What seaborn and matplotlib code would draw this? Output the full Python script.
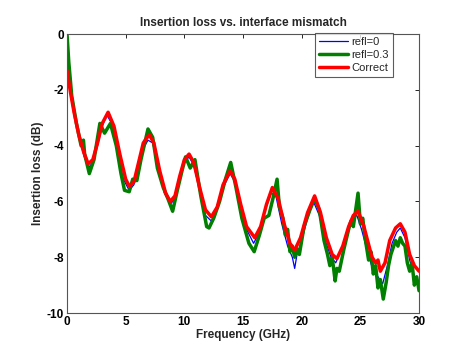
import numpy as np
import pandas as pd
import matplotlib
matplotlib.use("Agg")
import matplotlib.pyplot as plt
import seaborn as sns

# values (GHz, dB)
freq_correct = [0, 0.3, 0.6, 1.0, 1.4, 1.8, 2.2, 2.6, 3.0, 3.5, 4.0, 4.5, 5.0, 5.3, 5.7,
                6.1, 6.5, 7.0, 7.4, 7.9, 8.4, 8.8, 9.2, 9.6, 10.0, 10.4, 10.8, 11.3, 11.8,
                12.3, 12.8, 13.3, 13.9, 14.3, 14.8, 15.3, 16.0, 16.5, 17.0, 17.5, 18.0,
                18.5, 19.0, 19.4, 19.9, 20.5, 21.1, 21.6, 22.1, 22.6, 23.0, 23.5, 24.0,
                24.4, 24.8, 25.3, 25.8, 26.0, 26.3, 26.5, 26.7, 27.1, 27.5, 28.0, 28.4,
                28.8, 29.2, 29.6, 30.0]
loss_correct = [-1.3, -2.1, -2.8, -3.6, -4.2, -4.65, -4.5, -3.9, -3.2, -2.8, -3.3, -4.3,
                -5.2, -5.45, -5.3, -4.6, -3.9, -3.6, -3.9, -4.9, -5.7, -6.0, -5.8, -5.1,
                -4.5, -4.3, -4.6, -5.5, -6.3, -6.55, -6.2, -5.4, -4.9, -5.2, -6.1, -6.9,
                -7.3, -6.9, -6.1, -5.5, -5.9, -6.8, -7.5, -7.75, -7.3, -6.4, -5.8, -6.4,
                -7.3, -7.9, -8.05, -7.6, -6.9, -6.5, -6.35, -6.9, -7.7, -8.0, -8.2, -8.1,
                -8.5, -8.2, -7.4, -6.95, -6.8, -7.1, -7.9, -8.3, -8.5]

freq_refl0 = [0, 0.3, 0.6, 1.0, 1.4, 1.8, 2.2, 2.6, 3.0, 3.4, 3.8, 4.3, 4.8, 5.3, 5.7,
              6.1, 6.5, 6.9, 7.3, 7.8, 8.3, 8.8, 9.2, 9.6, 10.0, 10.4, 10.8, 11.3, 11.8,
              12.3, 12.8, 13.3, 13.9, 14.3, 14.8, 15.3, 15.9, 16.4, 16.9, 17.4, 17.8,
              18.3, 18.8, 19.2, 19.4, 19.6, 20.0, 20.5, 21.0, 21.5, 22.0, 22.5, 22.9,
              23.4, 23.9, 24.3, 24.7, 25.1, 25.6, 26.1, 26.5, 26.9, 27.3, 27.7, 28.1,
              28.4, 28.8, 29.2, 29.6, 30.0]
loss_refl0 = [-0.9, -1.9, -2.7, -3.6, -4.3, -4.8, -4.6, -4.0, -3.3, -2.9, -3.2, -4.2,
              -5.2, -5.6, -5.4, -4.8, -4.1, -3.8, -3.9, -4.8, -5.7, -6.1, -5.9, -5.2,
              -4.6, -4.4, -4.7, -5.6, -6.5, -6.7, -6.3, -5.5, -5.0, -5.3, -6.2, -7.0,
              -7.5, -7.1, -6.3, -5.7, -5.8, -6.8, -7.6, -8.0, -8.4, -7.9, -7.4, -6.6,
              -6.0, -6.5, -7.4, -8.0, -8.2, -7.7, -7.0, -6.6, -6.5, -7.0, -7.8, -8.5,
              -8.7, -8.95, -8.3, -7.5, -7.1, -6.95, -7.3, -8.1, -8.7, -9.1]

freq_refl03 = [0, 0.15, 0.4, 0.8, 1.2, 1.4, 1.5, 1.9, 2.3, 2.8, 3.2, 3.7, 4.2, 4.6, 4.9,
               5.3, 5.6, 5.95, 6.3, 6.9, 7.3, 7.7, 8.2, 8.6, 9.0, 9.4, 9.8, 10.1, 10.5,
               10.9, 11.4, 11.9, 12.1, 12.5, 13.0, 13.5, 13.95, 14.4, 14.9, 15.5, 15.95,
               16.4, 16.8, 17.2, 17.6, 17.9, 18.1, 18.4, 18.6, 18.8, 19.0, 19.2, 19.4,
               19.6, 19.8, 20.2, 20.7, 21.1, 21.5, 21.9, 22.2, 22.4, 22.6, 22.85, 23.0,
               23.2, 23.6, 24.0, 24.2, 24.4, 24.6, 24.8, 25.0, 25.2, 25.4, 25.7, 25.9,
               26.1, 26.3, 26.5, 26.7, 26.95, 27.2, 27.4, 27.6, 28.0, 28.2, 28.4, 28.6,
               28.8, 29.0, 29.2, 29.4, 29.6, 29.8, 30.0]
loss_refl03 = [0.0, -1.0, -2.2, -3.2, -4.0, -3.8, -4.3, -5.0, -4.5, -3.2, -3.55, -3.2,
               -4.0, -5.0, -5.6, -5.65, -5.2, -5.25, -4.5, -3.4, -3.7, -4.8, -5.5, -5.9,
               -6.35, -5.6, -4.9, -4.4, -4.8, -4.5, -5.8, -6.9, -6.95, -6.6, -6.0, -5.2,
               -4.6, -5.5, -6.6, -7.5, -7.8, -7.2, -6.6, -6.5, -5.8, -5.2, -6.2, -6.6,
               -7.2, -7.0, -7.8, -7.6, -8.0, -7.7, -7.9, -6.9, -6.3, -5.9, -6.3, -7.4,
               -7.9, -8.3, -8.0, -8.85, -8.4, -8.5, -7.7, -7.0, -6.7, -6.9, -6.3, -5.7,
               -6.8, -6.6, -7.3, -8.1, -7.8, -8.6, -8.3, -9.1, -8.8, -9.5, -8.9, -8.3,
               -7.9, -7.4, -7.6, -7.3, -7.5, -7.6, -8.2, -8.5, -8.2, -9.0, -8.7, -9.2]

sns.set_style("white")
plt.rcParams["font.family"] = ["Liberation Sans", "DejaVu Sans"]
plt.rcParams["font.weight"] = "bold"
plt.rcParams["axes.titleweight"] = "bold"
plt.rcParams["axes.labelweight"] = "bold"
plt.rcParams["axes.unicode_minus"] = False

fig = plt.figure(figsize=(4.7, 3.57), dpi=100)
ax = fig.add_axes([0.1426, 0.1232, 0.749, 0.781])

sns.lineplot(x=freq_refl0, y=loss_refl0, ax=ax, color="#0000ff", linewidth=0.9, label="refl=0")
sns.lineplot(x=freq_refl03, y=loss_refl03, ax=ax, color="#007f00", linewidth=2.5, label="refl=0.3")
sns.lineplot(x=freq_correct, y=loss_correct, ax=ax, color="#ff0000", linewidth=2.5, label="Correct")

ax.set_xlim(0, 30)
ax.set_ylim(-10, 0)
ax.set_xticks(range(0, 31, 5))
ax.set_yticks(range(-10, 1, 2))
ax.tick_params(direction="in", length=3, width=0.6, top=True, right=True,
               labelsize=8.5, colors="black", pad=2)
for s in ax.spines.values():
    s.set_color("#555555")
    s.set_linewidth(0.8)

ax.set_title("Insertion loss vs. interface mismatch", fontsize=8.5, pad=6)
ax.set_xlabel("Frequency (GHz)", fontsize=8.5, labelpad=1)
ax.set_ylabel("Insertion loss (dB)", fontsize=8.5, labelpad=2)

leg = ax.legend(loc="upper right", bbox_to_anchor=(0.925, 1.003), fontsize=8,
                frameon=True, fancybox=False, borderpad=0.35, labelspacing=0.25,
                handlelength=2.6, handletextpad=0.3, borderaxespad=0.0)
leg.get_frame().set_edgecolor("#333333")
leg.get_frame().set_linewidth(0.8)
for t in leg.get_texts():
    t.set_fontweight("normal")

fig.savefig("out.png", dpi=100)
